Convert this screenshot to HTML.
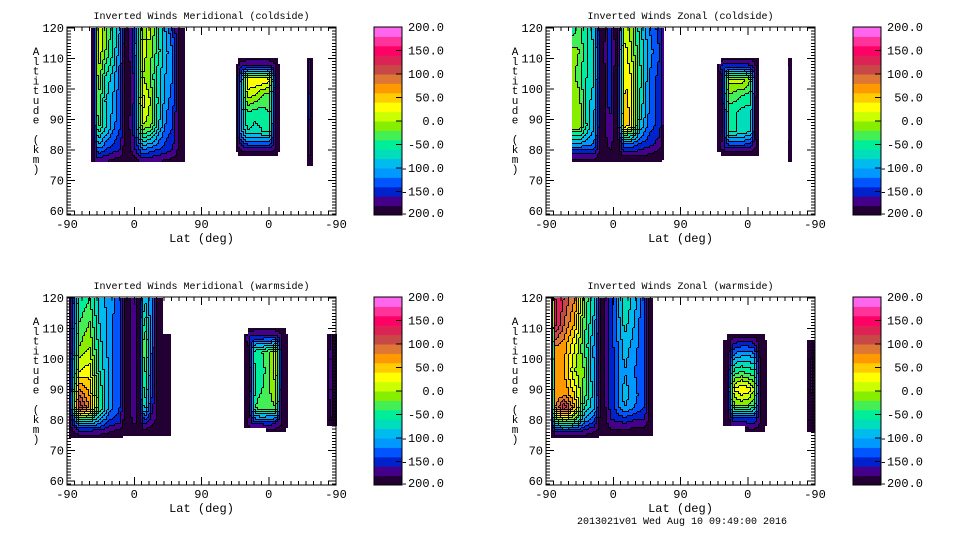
<!DOCTYPE html>
<html><head><meta charset="utf-8"><style>
html,body{margin:0;padding:0;background:#fff;}
svg{display:block;font-family:"Liberation Mono","DejaVu Sans Mono",monospace;}
</style></head><body>
<svg id="chart" width="960" height="540" viewBox="0 0 960 540" xmlns="http://www.w3.org/2000/svg"></svg>
<script>
// ---- colour scale data (bottom -> top), levels -200..200 step 20
const levelMin = -200, levelStep = 20;
const bandColors = ["#220033","#440088","#0022cc","#0055ff","#0099ff","#00bbee","#00ddbb","#00ee99","#44ee55","#88ee00",
  "#ccff00","#ffff00","#ffcc00","#ff9900","#dd7733","#c84848","#dd2255","#ff0066","#ff3399","#ff66ee"];
const cbarTicks = [200,150,100,50,0,-50,-100,-150,-200];
const altTicks = [60,70,80,90,100,110,120];
const latTickLabels = ["-90","0","90","0","-90"];
const panelTitles = ["Inverted Winds Meridional (coldside)","Inverted Winds Zonal (coldside)",
  "Inverted Winds Meridional (warmside)","Inverted Winds Zonal (warmside)"];

// ---- field data: track coordinate (0..360 along orbit), altitude (km), wind values
const tlA_track=[33,37,42,52,62,72,80,90,102,112,122,132,142,152,158];
const tlA_alt=[120,112,104,96,88,80,76];
const tlA_val=[
 [-200,-200,10,-10,-60,-100,-200,-150,-10,10,-50,-100,-140,-200,-200],
 [-200,-200,20,-20,-60,-120,-200,-150,10,-10,-50,-90,-120,-200,-200],
 [-200,-200,0,-60,-90,-130,-200,-160,0,-20,-70,-100,-120,-200,-200],
 [-200,-200,-10,-80,-100,-140,-200,-160,30,0,-60,-110,-130,-200,-200],
 [-200,-200,-30,-70,-110,-140,-200,-150,0,-10,-70,-120,-140,-200,-200],
 [-200,-200,-120,-140,-150,-160,-200,-170,-120,-130,-140,-150,-160,-190,-190],
 [-180,-180,-180,-180,-190,-190,-190,-190,-180,-180,-180,-185,-190,-190,-190]];
const tlB_track=[227,233,242,252,262,272,280,286];
const tlB_alt=[110,107,103,98,92,86,81,78];
const tlB_val=[
 [null,-190,-190,-190,-190,-190,-190,null],
 [-190,-160,-150,-150,-150,-150,-180,-190],
 [-190,-120,40,40,40,30,-200,-190],
 [-190,-100,10,0,-20,-30,-200,-190],
 [-190,-100,-40,-50,-50,-40,-200,-190],
 [-190,-110,-60,-70,-60,-60,-200,-190],
 [-190,-170,-150,-150,-150,-150,-180,-190],
 [null,-200,-200,-200,-200,-200,-200,null]];
const tlC_track=[322,325,328];
const tlC_alt=[110,95,80,75];
const tlC_val=[[-200,-180,-200],[-200,-150,-200],[-200,-170,-200],[-200,-190,-200]];

const trA_track=[35,45,55,65,75,86,96,106,115,126,139,153,159];
const trA_alt=[120,112,104,96,88,82,78,76];
const trA_val=[
 [-60,-30,-60,-90,-200,-150,-200,20,-10,-70,-120,-150,-200],
 [-10,-20,-60,-80,-200,-140,-200,30,0,-60,-110,-140,-200],
 [-10,-30,-60,-80,-200,-150,-200,40,20,-50,-120,-150,-200],
 [0,-10,-70,-90,-200,-150,-200,50,30,-60,-120,-150,-200],
 [0,0,-60,-100,-200,-160,-200,60,30,-80,-130,-150,-200],
 [-100,-100,-110,-120,-200,-170,-200,-120,-120,-140,-150,-170,-200],
 [-170,-170,-170,-170,-190,-190,-190,-180,-180,-180,-185,-190,-200],
 [-190,-190,-190,-190,-190,-200,-200,-200,-200,-200,-200,-200,null]];
const trB_track=[230,236,245,255,265,275,282,286];
const trB_alt=[110,107,103,98,92,86,81,78];
const trB_val=[
 [null,-190,-190,-190,-190,-190,-190,null],
 [-190,-150,-140,-140,-140,-150,-180,-190],
 [-190,-200,10,10,10,-20,-200,-190],
 [-190,-200,-20,-30,-40,-50,-200,-190],
 [-190,-200,-60,-60,-70,-70,-200,-190],
 [-190,-200,-60,-60,-70,-80,-200,-190],
 [-190,-170,-150,-150,-150,-160,-180,-190],
 [null,-200,-200,-200,-200,-200,-200,null]];
const trC_track=[324,326,329];
const trC_alt=[110,95,80,76];
const trC_val=[[-200,-170,-200],[-200,-150,-200],[-200,-170,-200],[-200,-190,-200]];

const blA_track=[4,17,31,44,58,71,80,91,98,104,114,124,135,140];
const blA_alt=[120,112,104,96,88,84,80,76,74];
const blA_val=[
 [-200,-60,-40,-90,-110,-130,-200,-160,-200,-80,-120,-200,null,null],
 [-200,-40,-20,-80,-110,-140,-200,-160,-200,-40,-120,-200,null,null],
 [-200,-20,0,-70,-110,-140,-200,-160,-200,0,-120,-200,-180,-190],
 [-200,20,30,-60,-110,-140,-200,-160,-200,-20,-130,-200,-180,-190],
 [-200,100,60,-40,-110,-140,-200,-160,-200,-40,-140,-200,-180,-190],
 [-200,140,80,-40,-110,-140,-200,-160,-200,-60,-150,-200,-180,-190],
 [-200,-60,-60,-100,-140,-150,-200,-170,-200,-140,-170,-190,-180,-190],
 [-190,-170,-170,-170,-180,-190,-190,-190,-190,-190,-190,-190,-190,-190],
 [-190,-190,-190,-190,-190,-200,null,null,null,null,null,null,null,null]];
const blB_track=[238,244,252,262,272,280,288,296];
const blB_alt=[110,107,102,96,90,84,79,76];
const blB_val=[
 [null,-190,-190,-190,-190,-190,-190,null],
 [-190,-160,-150,-150,-150,-150,-180,-190],
 [-190,-200,-40,-40,-20,10,-200,-190],
 [-190,-200,-60,-50,-20,10,-200,-190],
 [-190,-200,-60,-40,-20,0,-200,-190],
 [-190,-200,-40,-20,-30,-20,-200,-190],
 [-190,-170,-150,-150,-150,-160,-180,-190],
 [null,null,null,null,-190,-190,-190,null]];
const blC_track=[349,354,360];
const blC_alt=[108,95,82,78];
const blC_val=[[-200,-170,-200],[-200,-160,-200],[-200,-170,-200],[-200,-190,-200]];

const brA_track=[8,13,25,39,52,66,75,88,106,119,132,142];
const brA_alt=[120,112,104,96,88,84,80,76,74];
const brA_val=[
 [-200,140,120,80,-20,-80,-200,-150,-60,-90,-140,-200],
 [-200,150,100,60,-30,-90,-200,-150,-70,-100,-140,-200],
 [-200,80,70,20,-40,-110,-200,-150,-90,-110,-140,-200],
 [-200,60,60,0,-20,-110,-200,-150,-100,-120,-140,-200],
 [-200,60,80,40,-30,-100,-200,-150,-90,-110,-140,-200],
 [-200,80,140,60,-60,-100,-200,-150,-100,-120,-140,-200],
 [-200,-40,0,-30,-100,-140,-200,-160,-150,-160,-160,-200],
 [-190,-170,-160,-160,-170,-180,-190,-185,-185,-190,-190,-200],
 [-190,-190,-190,-190,-190,-190,null,null,null,null,null,null]];
const brB_track=[238,244,252,262,272,280,288,296];
const brB_alt=[108,104,100,95,90,85,80,76];
const brB_val=[
 [null,-190,-190,-190,-190,-190,-190,null],
 [-190,-200,-150,-140,-140,-150,-200,-190],
 [-190,-200,-100,-90,-90,-100,-200,-190],
 [-190,-200,-40,-30,-40,-50,-200,-190],
 [-190,-200,20,40,30,0,-200,-190],
 [-190,-200,-20,-10,-20,-40,-200,-190],
 [-190,-190,-150,-150,-150,-150,-180,-190],
 [null,null,null,null,-190,-190,-190,null]];
const brC_track=[350,355,360];
const brC_alt=[106,95,82,76];
const brC_val=[[-200,-180,-200],[-200,-170,-200],[-200,-180,-200],[-200,-190,-200]];

const panelRegions=[
 [[tlA_track,tlA_alt,tlA_val],[tlB_track,tlB_alt,tlB_val],[tlC_track,tlC_alt,tlC_val]],
 [[trA_track,trA_alt,trA_val],[trB_track,trB_alt,trB_val],[trC_track,trC_alt,trC_val]],
 [[blA_track,blA_alt,blA_val],[blB_track,blB_alt,blB_val],[blC_track,blC_alt,blC_val]],
 [[brA_track,brA_alt,brA_val],[brB_track,brB_alt,brB_val],[brC_track,brC_alt,brC_val]]];

// ---- rendering
const NS="http://www.w3.org/2000/svg";
const svg=document.getElementById('chart');
function mk(tag,attrs,parent){const e=document.createElementNS(NS,tag);for(const k in attrs)e.setAttribute(k,attrs[k]);(parent||svg).appendChild(e);return e;}
function band(v){let i=Math.floor((v-levelMin)/levelStep);return Math.max(0,Math.min(19,i));}

const panels=[{x:67,y:27},{x:546,y:27},{x:67,y:297},{x:546,y:297}];
const PW=269, PH=188, ALT_TOP=120, ALT_BOT=58.4;

function sampleRegion(track,alt,val,u,a){
  if(u<track[0]||u>track[track.length-1]||a>alt[0]||a<alt[alt.length-1])return null;
  let i=0;while(i<track.length-2&&u>track[i+1])i++;
  let j=0;while(j<alt.length-2&&a<alt[j+1])j++;
  const tx=(u-track[i])/(track[i+1]-track[i]);
  const ty=(alt[j]-a)/(alt[j]-alt[j+1]);
  const ni=tx<0.5?i:i+1, nj=ty<0.5?j:j+1;
  if(val[nj][ni]===null)return null;
  const g=(r,c)=>val[r][c]===null?-200:val[r][c];
  return (1-ty)*((1-tx)*g(j,i)+tx*g(j,i+1))+ty*((1-tx)*g(j+1,i)+tx*g(j+1,i+1));
}

panels.forEach((p,pi)=>{
  const G=mk('g',{});
  
  
  const xS=u=>p.x+u/360*PW;
  const yS=a=>p.y+(ALT_TOP-a)/(ALT_TOP-ALT_BOT)*PH+1;
  const uInv=x=>(x-p.x)/PW*360;
  const aInv=y=>ALT_TOP-(y-p.y-1)/PH*(ALT_TOP-ALT_BOT);
  const field=mk('g',{},G);
  
  
  const lines=mk('g',{fill:'#000'},G);
  
  
  panelRegions[pi].forEach(([tr,al,va])=>{
    const x0=Math.floor(xS(tr[0])),x1=Math.ceil(xS(tr[tr.length-1]));
    const y0=Math.floor(yS(al[0])),y1=Math.ceil(yS(al[al.length-1]));
    const S=2;
    const grid=[];
    for(let y=y0;y<y1;y+=S){const row=[];for(let x=x0;x<x1;x+=S){
      const v=sampleRegion(tr,al,va,uInv(x+S/2),aInv(y+S/2));row.push(v===null?null:band(v));}grid.push(row);}
    grid.forEach((row,r)=>{
      let c=0;
      while(c<row.length){
        const b=row[c];let e=c;while(e+1<row.length&&row[e+1]===b)e++;
        if(b!==null){
          const cell=mk('rect',{x:x0+c*S,y:y0+r*S,width:(e-c+1)*S,height:S,fill:bandColors[b]},field);
          
          
          if(e+1<row.length&&row[e+1]!==null&&row[e+1]!==b)mk('rect',{x:x0+(e+1)*S-1,y:y0+r*S,width:1,height:S},lines);
        }
        c=e+1;
      }
      if(r+1<grid.length){
        row.forEach((b,c2)=>{const nb=grid[r+1][c2];if(b!==null&&nb!==null&&nb!==b)mk('rect',{x:x0+c2*S,y:y0+(r+1)*S-1,width:S,height:1},lines);});
      }
    });
  });
  const fr=mk('rect',{x:p.x,y:p.y,width:PW,height:PH,fill:'none',stroke:'#000','stroke-width':1},G);
  
  
  let tk='';
  for(let a=59;a<=120;a++){const y=yS(a);if(y<p.y||y>p.y+PH)continue;const L=(a%10===0)?8:4;
    tk+=`M${p.x} ${y}h${L}M${p.x+PW} ${y}h${-L}`;}
  for(let u=0;u<=360;u+=10){const x=xS(u);const L=(u%90===0)?8:4;tk+=`M${x} ${p.y+PH}v${-L}M${x} ${p.y}v${L}`;}
  const ticks=mk('path',{d:tk,stroke:'#000','stroke-width':1,fill:'none','shape-rendering':'crispEdges'},G);
  
  
  altTicks.forEach(a=>{const t=mk('text',{x:p.x-3,y:yS(a)+4,'font-size':12,'text-anchor':'end'},G);t.textContent=a;
    
    });
  latTickLabels.forEach((l,i)=>{const t=mk('text',{x:xS(i*90),y:p.y+PH+13,'font-size':12,'text-anchor':'middle'},G);t.textContent=l;
    
    });
  const xt=mk('text',{x:p.x+PW/2,y:p.y+PH+27,'font-size':12,'text-anchor':'middle'},G);xt.textContent='Lat (deg)';
  
  
  const tt=mk('text',{x:p.x+PW/2,y:p.y-8,'font-size':10,'text-anchor':'middle'},G);tt.textContent=panelTitles[pi];
  
  
  const yt=mk('text',{x:p.x-31,y:p.y+26,'font-size':11,'text-anchor':'middle'},G);
  
  
  "Altitude (km)".split('').forEach((ch,k)=>{const s=mk('tspan',{x:p.x-31,y:p.y+28+k*9.8},yt);s.textContent=ch===' '?'\u00a0':ch;});
  const cb=mk('g',{},G);
  
  
  const cx=p.x+307, cw=28, bh=PH/20;
  bandColors.forEach((c,k)=>{const r=mk('rect',{x:cx,y:p.y+PH-(k+1)*bh,width:cw,height:bh+0.5,fill:c},cb);
    
    });
  mk('rect',{x:cx,y:p.y,width:cw,height:PH,fill:'none',stroke:'#000'},cb);
  cbarTicks.forEach(v=>{const y=p.y+PH-(v-levelMin)/400*PH;
    mk('line',{x1:cx+cw-6,x2:cx+cw,y1:y,y2:y,stroke:'#000'},cb);
    const t=mk('text',{x:cx+70,y:Math.min(Math.max(y+4,p.y+2),p.y+PH+2),'font-size':12,'text-anchor':'end'},cb);
    t.textContent=v.toFixed(1);
    
    });
});
const ft=mk('text',{x:682,y:524,'font-size':10,'text-anchor':'middle'});
ft.textContent='2013021v01 Wed Aug 10 09:49:00 2016';


</script>
</body></html>
